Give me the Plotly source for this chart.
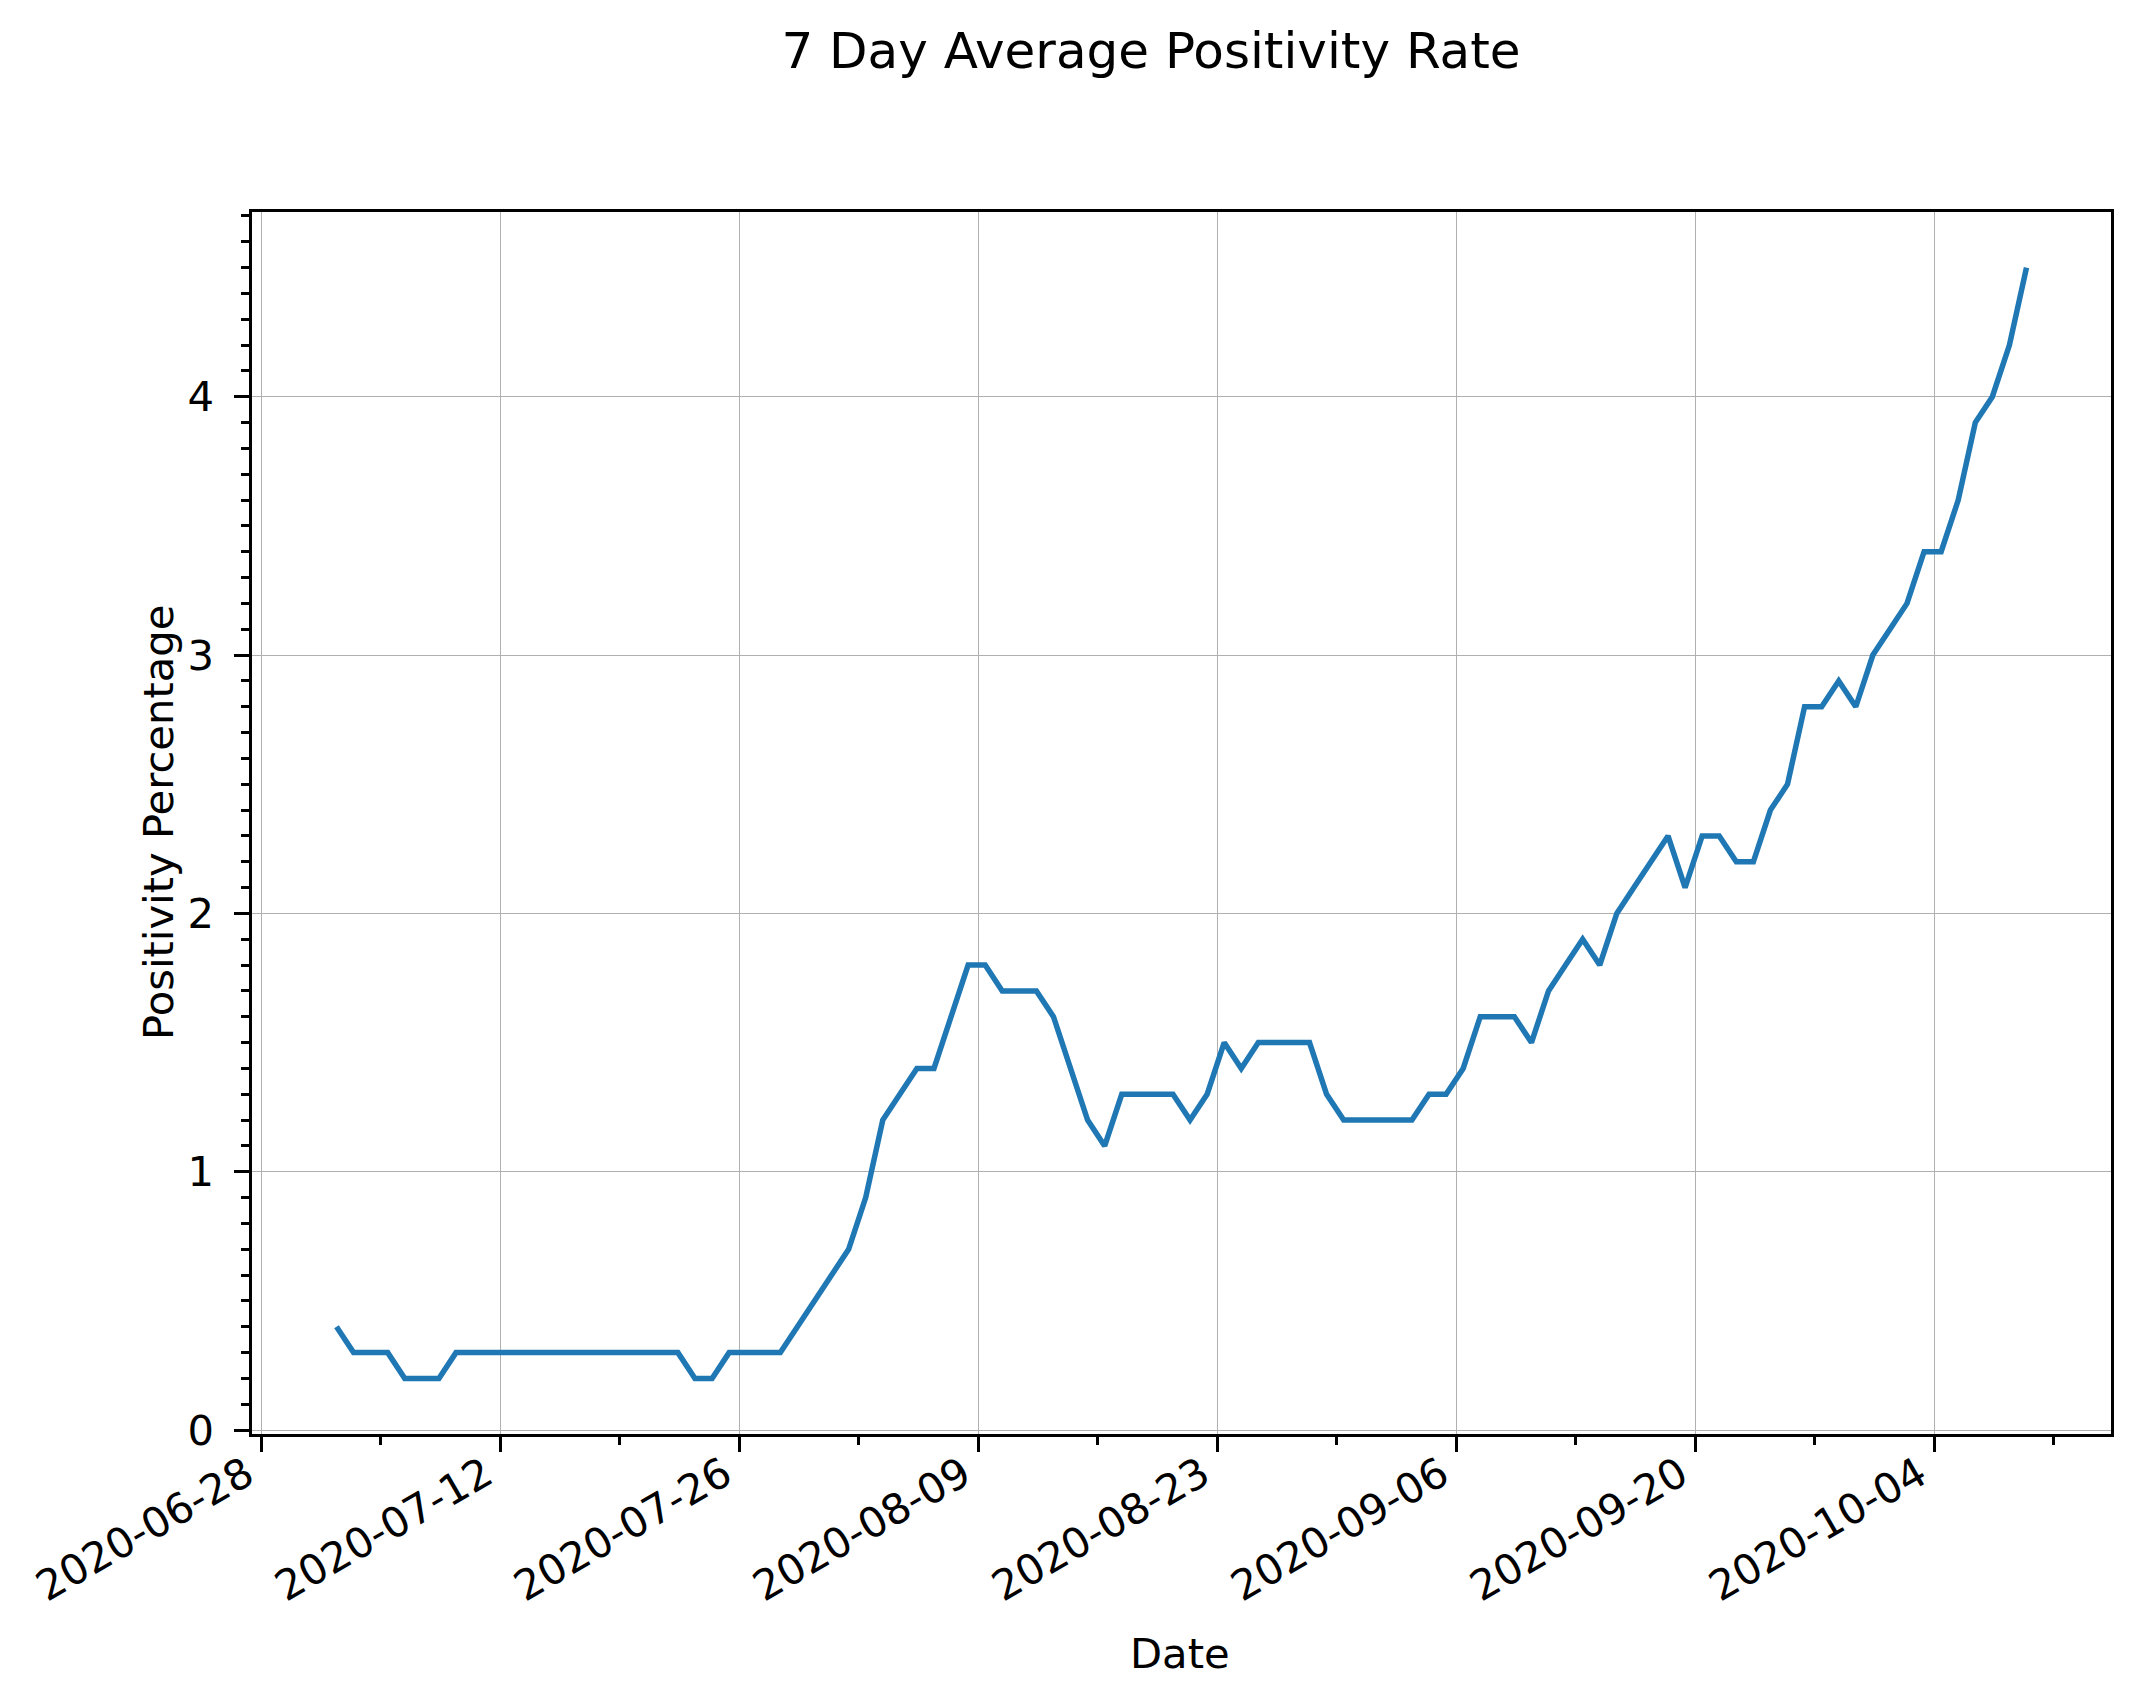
import pandas as pd
import plotly.graph_objects as go

# ---- data ----
start_time = "2020-07-02 09:36"
positivity = [
    0.4, 0.3, 0.3, 0.3, 0.2, 0.2, 0.2, 0.3, 0.3, 0.3,   # 07-02 .. 07-11
    0.3, 0.3, 0.3, 0.3, 0.3, 0.3, 0.3, 0.3, 0.3, 0.3,   # 07-12 .. 07-21
    0.3, 0.2, 0.2, 0.3, 0.3, 0.3, 0.3, 0.4, 0.5, 0.6,   # 07-22 .. 07-31
    0.7, 0.9, 1.2, 1.3, 1.4, 1.4, 1.6, 1.8, 1.8, 1.7,   # 08-01 .. 08-10
    1.7, 1.7, 1.6, 1.4, 1.2, 1.1, 1.3, 1.3, 1.3, 1.3,   # 08-11 .. 08-20
    1.2, 1.3, 1.5, 1.4, 1.5, 1.5, 1.5, 1.5, 1.3, 1.2,   # 08-21 .. 08-30
    1.2, 1.2, 1.2, 1.2, 1.3, 1.3, 1.4, 1.6, 1.6, 1.6,   # 08-31 .. 09-09
    1.5, 1.7, 1.8, 1.9, 1.8, 2.0, 2.1, 2.2, 2.3, 2.1,   # 09-10 .. 09-19
    2.3, 2.3, 2.2, 2.2, 2.4, 2.5, 2.8, 2.8, 2.9, 2.8,   # 09-20 .. 09-29
    3.0, 3.1, 3.2, 3.4, 3.4, 3.6, 3.9, 4.0, 4.2, 4.5,   # 09-30 .. 10-09
]
dates = pd.date_range(start_time, periods=len(positivity), freq="D")

x_tick_dates = ["2020-06-28", "2020-07-12", "2020-07-26", "2020-08-09",
                "2020-08-23", "2020-09-06", "2020-09-20", "2020-10-04"]
y_tick_vals = [0, 1, 2, 3, 4]

title_text = "7 Day Average Positivity Rate"
x_label = "Date"
y_label = "Positivity Percentage"

# ---- figure ----
W, H = 2141, 1705
L, R, T, B = 252, 2111, 212, 1434
FONT = "DejaVu Sans"
LINE_BLUE = "#1f77b4"
GRID = "#b0b0b0"

fig = go.Figure()
fig.add_trace(go.Scatter(
    x=dates, y=positivity, mode="lines",
    line=dict(color=LINE_BLUE, width=5.5),
    showlegend=False,
))

common = dict(
    showline=True, linecolor="black", linewidth=3.3, mirror=True,
    ticks="outside", ticklen=14.6, tickwidth=3.3, tickcolor="black",
    showgrid=True, gridcolor=GRID, gridwidth=1.2,
    zeroline=False,
    tickfont=dict(family=FONT, size=41.7, color="black"),
)

fig.update_xaxes(
    type="date",
    range=["2020-06-27 10:48", "2020-10-14 08:24"],
    tickvals=x_tick_dates,
    ticktext=x_tick_dates,
    tickangle=-30,
    ticklabelstandoff=-18,
    ticklabelshift=-15,
    minor=dict(dtick=7 * 86400000, tick0="2020-06-28", ticks="outside",
               ticklen=8.3, tickwidth=2.5, tickcolor="black", showgrid=False),
    **common,
)
fig.update_yaxes(
    range=[-0.015, 4.715],
    tickvals=y_tick_vals,
    ticktext=[str(v) for v in y_tick_vals],
    ticklabelstandoff=12,
    minor=dict(dtick=0.1, tick0=0, ticks="outside",
               ticklen=8.3, tickwidth=2.5, tickcolor="black", showgrid=False),
    **common,
)

pw, ph = R - L, B - T
fig.update_layout(
    width=W, height=H,
    margin=dict(l=L, r=W - R, t=T, b=H - B, pad=0),
    paper_bgcolor="white", plot_bgcolor="white",
    font=dict(family=FONT, color="black"),
    title=dict(text=title_text, x=(1151 - L) / pw, xref="paper", xanchor="center",
               y=1 - 50 / H, yref="container", yanchor="middle",
               font=dict(family=FONT, size=50, color="black")),
    annotations=[
        dict(text=x_label, xref="paper", yref="paper",
             x=(1180 - L) / pw, y=(B - 1653) / ph, xanchor="center", yanchor="middle",
             showarrow=False, font=dict(family=FONT, size=41.7, color="black")),
        dict(text=y_label, xref="paper", yref="paper", textangle=-90,
             x=(158 - L) / pw, y=0.5, xanchor="center", yanchor="middle",
             showarrow=False, font=dict(family=FONT, size=41.7, color="black")),
    ],
)

fig.write_html("out.html")
